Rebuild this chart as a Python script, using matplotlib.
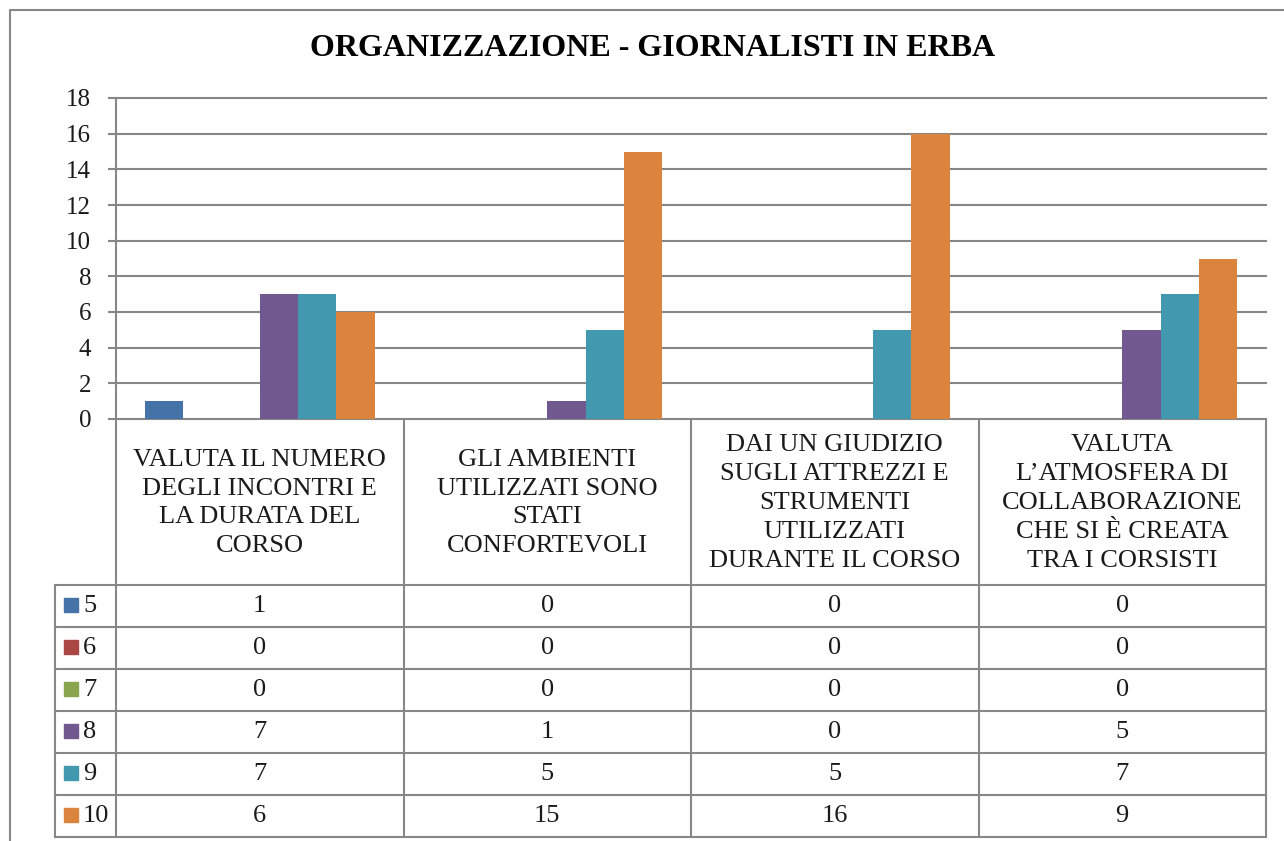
import numpy as np
import matplotlib
matplotlib.use('Agg')
import matplotlib.pyplot as plt
from matplotlib.patches import Rectangle

# Data
categories = [
    'VALUTA IL NUMERO\nDEGLI INCONTRI E\nLA DURATA DEL\nCORSO',
    'GLI AMBIENTI\nUTILIZZATI SONO\nSTATI\nCONFORTEVOLI',
    'DAI UN GIUDIZIO\nSUGLI ATTREZZI E\nSTRUMENTI\nUTILIZZATI\nDURANTE IL CORSO',
    'VALUTA\nL\u2019ATMOSFERA DI\nCOLLABORAZIONE\nCHE SI \u00c8 CREATA\nTRA I CORSISTI',
]
series_names = ['5', '6', '7', '8', '9', '10']
vals_5 = [1, 0, 0, 0]
vals_6 = [0, 0, 0, 0]
vals_7 = [0, 0, 0, 0]
vals_8 = [7, 1, 0, 5]
vals_9 = [7, 5, 5, 7]
vals_10 = [6, 15, 16, 9]
series = [vals_5, vals_6, vals_7, vals_8, vals_9, vals_10]
colors = ['#4572A7', '#AA4643', '#89A54E', '#71588F', '#4198AF', '#DB843D']
yticks = [0, 2, 4, 6, 8, 10, 12, 14, 16, 18]

title = 'ORGANIZZAZIONE - GIORNALISTI IN ERBA'

W, H = 1284, 841
font = 'Liberation Serif'
grey = '#878787'
txt = '#1a1a1a'
lw = 1.5

fig = plt.figure(figsize=(W / 100, H / 100), dpi=100)
fig.patch.set_facecolor('white')

# layout in pixels
left, right, top, zero = 116, 1266, 98, 419
head_bot = 585
row_h = 42
leg_left = 55

ax = fig.add_axes([left / W, 1 - zero / H, (right - left) / W, (zero - top) / H])
n_cat = len(categories)
n_ser = len(series)
bw = 1 / (n_ser + 1.5)
x = np.arange(n_cat) + 0.5
for i, (vals, c) in enumerate(zip(series, colors)):
    ax.bar(x + (i - (n_ser - 1) / 2) * bw, vals, width=bw, color=c, zorder=3)
ax.set_xlim(0, n_cat)
ax.set_ylim(0, 18)
ax.set_yticks(yticks)
ax.set_yticklabels([str(t) for t in yticks], fontsize=18, family=font, color=txt)
ax.set_xticks([])
ax.tick_params(axis='y', direction='out', length=5.8, width=lw, color=grey, pad=12)
ax.yaxis.grid(True, color=grey, lw=lw, zorder=0)
for gl in ax.get_ygridlines():
    gl.set_clip_on(False)
for s in ax.spines.values():
    s.set_visible(False)

# overlay for the data table and frame
ov = fig.add_axes([0, 0, 1, 1])
ov.set_xlim(0, W)
ov.set_ylim(H, 0)
ov.axis('off')

# outer frame
ov.plot([10, 10, W], [H, 10, 10], color=grey, lw=lw)

ov.text(653, 48, title, ha='center', va='center', fontsize=23,
        fontweight='bold', family=font, color='black')

col_x = np.linspace(left, right, n_cat + 1)
rows_y = head_bot + row_h * np.arange(n_ser + 1)

# table lines
ov.plot([left, left], [top, rows_y[-1]], color=grey, lw=lw)
ov.plot([leg_left, leg_left], [head_bot, rows_y[-1]], color=grey, lw=lw)
for cx in col_x[1:]:
    ov.plot([cx, cx], [zero, rows_y[-1]], color=grey, lw=lw)
for ry in rows_y:
    ov.plot([leg_left, right], [ry, ry], color=grey, lw=lw)

# category headers
for j, cat in enumerate(categories):
    ov.text((col_x[j] + col_x[j + 1]) / 2, (zero + head_bot) / 2 + 1, cat,
            ha='center', va='center', fontsize=19, family=font, color=txt,
            linespacing=1.4, multialignment='center')

# data rows
for i, (name, vals, c) in enumerate(zip(series_names, series, colors)):
    cy = (rows_y[i] + rows_y[i + 1]) / 2
    ov.add_patch(Rectangle((64, cy - 8), 14, 14, color=c))
    ov.text(83, cy, name, ha='left', va='center', fontsize=19, family=font, color=txt)
    for j, v in enumerate(vals):
        ov.text((col_x[j] + col_x[j + 1]) / 2, cy, str(v), ha='center',
                va='center', fontsize=19, family=font, color=txt)

fig.savefig('out.png', dpi=100)
